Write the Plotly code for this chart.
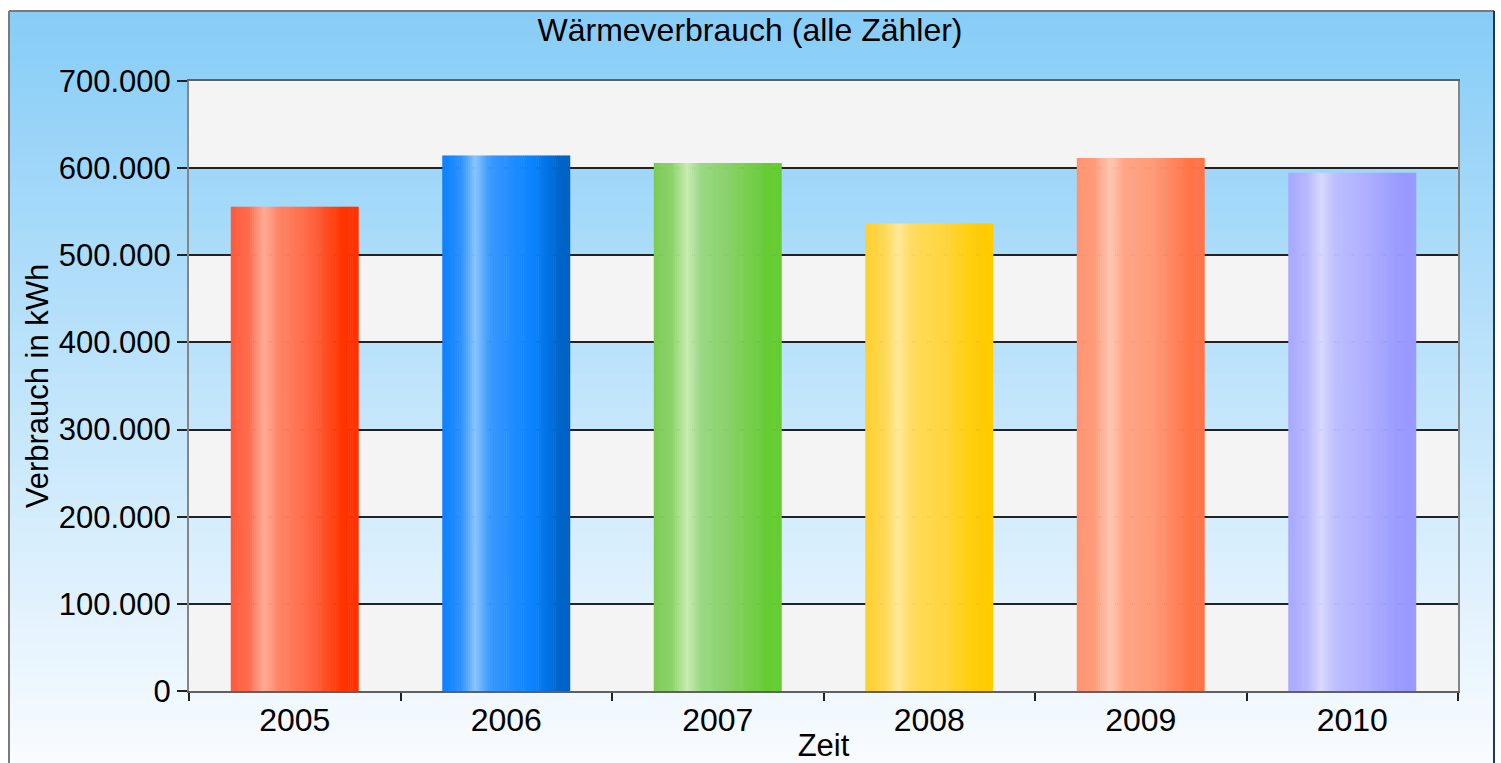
import plotly.graph_objects as go

# ---------------- data ----------------
years = ["2005", "2006", "2007", "2008", "2009", "2010"]
values = [555600, 614400, 606000, 536500, 611500, 594600]
y_tick_values = [0, 100000, 200000, 300000, 400000, 500000, 600000, 700000]

title_text = "Wärmeverbrauch (alle Zähler)"
x_title = "Zeit"
y_title = "Verbrauch in kWh"

# gradient stops across each bar's width (t, colour)
bar_gradients = [
    [(0.0, "#ff5a3a"), (0.14, "#ff6c4c"), (0.26, "#ffab96"), (0.37, "#ff8566"), (0.6, "#ff6a48"), (0.88, "#ff3300"), (1.0, "#ff3300")],
    [(0.0, "#0a80ff"), (0.14, "#2a90ff"), (0.26, "#88c4ff"), (0.37, "#3a98ff"), (0.72, "#0882ff"), (0.9, "#0066cc"), (1.0, "#0060c0")],
    [(0.0, "#7ccc50"), (0.14, "#8cd26a"), (0.26, "#c8ecb0"), (0.37, "#9ad884"), (0.6, "#88d066"), (0.88, "#66cc33"), (1.0, "#66cc33")],
    [(0.0, "#ffd030"), (0.14, "#ffd84e"), (0.26, "#ffe89c"), (0.37, "#ffdb5a"), (0.6, "#ffd640"), (0.88, "#ffcc00"), (1.0, "#ffcc00")],
    [(0.0, "#ff9470"), (0.14, "#ff9c7a"), (0.26, "#ffc8b2"), (0.37, "#ffa585"), (0.6, "#ff9a78"), (0.88, "#ff7447"), (1.0, "#ff7447")],
    [(0.0, "#a8a8ff"), (0.14, "#b6b6ff"), (0.26, "#d8d8ff"), (0.37, "#bdbdff"), (0.6, "#b0b0ff"), (0.88, "#9999ff"), (1.0, "#9999ff")],
]


def hex2rgb(h):
    h = h.lstrip("#")
    return tuple(int(h[i:i + 2], 16) for i in (0, 2, 4))


def interp(stops, t):
    for (t0, c0), (t1, c1) in zip(stops[:-1], stops[1:]):
        if t0 <= t <= t1:
            f = 0 if t1 == t0 else (t - t0) / (t1 - t0)
            a, b = hex2rgb(c0), hex2rgb(c1)
            return "rgb(%d,%d,%d)" % tuple(round(a[k] + (b[k] - a[k]) * f) for k in range(3))
    return stops[-1][1]


def mix(c0, c1, f):
    a, b = hex2rgb(c0), hex2rgb(c1)
    return "rgb(%d,%d,%d)" % tuple(round(a[k] + (b[k] - a[k]) * f) for k in range(3))


fig = go.Figure()

# bars drawn as many thin overlaid strips to emulate the horizontal gradient
BAR_W = 0.605
N = 60
sw = BAR_W / N
for i in range(N):
    t = (i + 0.5) / N
    cols = [interp(g, t) for g in bar_gradients]
    fig.add_trace(go.Bar(
        x=years, y=values,
        offset=-BAR_W / 2 + i * sw,
        width=sw * (1.0 if i == N - 1 else 1.25),
        marker=dict(color=cols, line=dict(width=0)),
        showlegend=False, hoverinfo="skip" if i else "x+y",
    ))

# ---------------- background (paper gradient inside framed box) ----------------
W, H = 1501, 763
ML, MR, MT, MB = 189, 43, 81, 72
pw, ph = W - ML - MR, H - MT - MB


def px2x(px):
    return (px - ML) / pw


def py2y(py):
    return (H - MB - py) / ph


shapes = []
top_px, bot_px = 11, 770
NS = 90
for k in range(NS):
    y0p = top_px + (bot_px - top_px) * k / NS
    y1p = top_px + (bot_px - top_px) * (k + 1) / NS + 0.8
    f = k / (NS - 1)
    shapes.append(dict(type="rect", xref="paper", yref="paper", layer="below",
                       x0=px2x(9), x1=px2x(1494), y0=py2y(y1p), y1=py2y(y0p),
                       fillcolor=mix("#87cdf7", "#fafcff", f), line=dict(width=0)))

# alternating light bands in the plot area
for lo in y_tick_values[0:-1:2]:
    shapes.append(dict(type="rect", xref="paper", yref="y", layer="below",
                       x0=0, x1=1, y0=lo, y1=lo + 100000,
                       fillcolor="#f4f4f4", line=dict(width=0)))

# outer frame
shapes.append(dict(type="line", xref="paper", yref="paper", layer="above",
                   x0=px2x(9), x1=px2x(9), y0=py2y(11), y1=py2y(780),
                   line=dict(color="#7a7a7a", width=2)))
shapes.append(dict(type="line", xref="paper", yref="paper", layer="above",
                   x0=px2x(9), x1=px2x(1494), y0=py2y(11), y1=py2y(11),
                   line=dict(color="#7a7a7a", width=2)))
shapes.append(dict(type="line", xref="paper", yref="paper", layer="above",
                   x0=px2x(1494), x1=px2x(1494), y0=py2y(11), y1=py2y(780),
                   line=dict(color="#1f3a52", width=2)))

font_family = "Liberation Sans, Arial, sans-serif"

fig.update_layout(
    width=W, height=H,
    margin=dict(l=ML, r=MR, t=MT, b=MB, autoexpand=False),
    paper_bgcolor="white",
    plot_bgcolor="rgba(0,0,0,0)",
    barmode="overlay",
    separators=",.",
    font=dict(family=font_family, size=31, color="black"),
    title=dict(text=title_text, x=750 / W, xanchor="center", y=1 - 30 / H, yanchor="middle",
               font=dict(family=font_family, size=32, color="black")),
    shapes=shapes,
    showlegend=False,
)

fig.update_xaxes(
    type="category", range=[-0.5, 5.5],
    title=dict(text=x_title, standoff=12, font=dict(size=31)),
    tickfont=dict(size=32),
    showline=True, linecolor="#606060", linewidth=2, mirror=True,
    ticks="outside", tickson="boundaries", ticklen=8, tickwidth=2, tickcolor="#222",
    showgrid=False, zeroline=False,
)
fig.update_yaxes(
    range=[0, 700000], tickvals=y_tick_values, tickformat=",d",
    title=dict(text=y_title, standoff=1, font=dict(size=31)),
    tickfont=dict(size=31),
    showline=True, linecolor="#858585", linewidth=2, mirror=True,
    ticks="outside", ticklen=10, tickwidth=2, tickcolor="#222",
    showgrid=True, gridcolor="#222", gridwidth=1.5, zeroline=False,
)

fig.write_html("out.html",
               config={"displayModeBar": False},
               post_script="document.body.style.margin='0px';document.body.style.overflow='hidden';")
